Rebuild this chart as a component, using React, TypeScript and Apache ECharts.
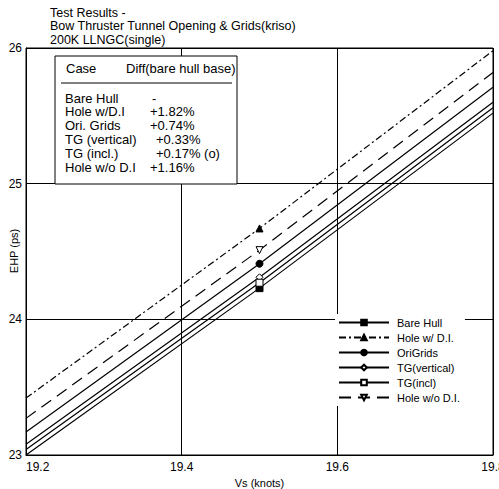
import React, { useEffect, useRef } from "react";
import * as echarts from "echarts";

// Speeds (knots) at which each curve is known
const speeds = [19.2, 19.5, 19.8];
// EHP values for each case
const bareHull = [23.0, 24.23, 25.52];
const holeWithDI = [23.42, 24.67, 25.98];
const oriGrids = [23.17, 24.41, 25.71];
const tgVertical = [23.08, 24.31, 25.6];
const tgIncl = [23.04, 24.27, 25.56];
const holeWithoutDI = [23.27, 24.51, 25.82];

const seriesNames = ["Bare Hull", "Hole w/ D.I.", "OriGrids", "TG(vertical)", "TG(incl)", "Hole w/o D.I."];

// Table in the top-left box
const tableCases = ["Bare Hull", "Hole w/D.I", "Ori. Grids", "TG (vertical)", "TG (incl.)", "Hole w/o D.I"];
const tableDiffs = ["-", "+1.82%", "+0.74%", "+0.33%", "+0.17% (o)", "+1.16%"];

const titleLines = ["Test Results -", "Bow Thruster Tunnel Opening & Grids(kriso)", "200K LLNGC(single)"];
const yAxisName = "EHP (ps)";
const xAxisName = "Vs (knots)";

const FONT = "Liberation Sans, Arial, sans-serif";
const MARK_SPEED = 19.5;

export default function App() {
  const ref = useRef<HTMLDivElement>(null);
  useEffect(() => {
    if (!ref.current) return;
    const chart = echarts.init(ref.current, undefined, { renderer: "svg" });

    const defs = [
      { name: seriesNames[0], values: bareHull, symbol: "rect", filled: true, dash: "solid" as any, rotate: 0 },
      { name: seriesNames[1], values: holeWithDI, symbol: "triangle", filled: true, dash: [7, 3, 2, 3], rotate: 0 },
      { name: seriesNames[2], values: oriGrids, symbol: "circle", filled: true, dash: "solid" as any, rotate: 0 },
      { name: seriesNames[3], values: tgVertical, symbol: "diamond", filled: false, dash: "solid" as any, rotate: 0 },
      { name: seriesNames[4], values: tgIncl, symbol: "rect", filled: false, dash: "solid" as any, rotate: 0 },
      { name: seriesNames[5], values: holeWithoutDI, symbol: "triangle", filled: false, dash: [12, 7], rotate: 180 },
    ];

    const series = defs.map((d) => ({
      name: d.name,
      type: "line",
      symbol: d.symbol,
      symbolSize: 7,
      symbolRotate: d.rotate,
      showAllSymbol: true,
      lineStyle: { color: "#000", width: 1.2, type: d.dash },
      itemStyle: { color: d.filled ? "#000" : "#fff", borderColor: "#000", borderWidth: 1 },
      data: speeds.map((s, i) =>
        s === MARK_SPEED ? { value: [s, d.values[i]] } : { value: [s, d.values[i]], symbol: "none" }
      ),
      z: 3,
    }));

    const graphicEls: any[] = [
      {
        type: "rect",
        shape: { x: 55, y: 56, width: 182, height: 128 },
        style: { fill: "#fff", stroke: "#000", lineWidth: 1 },
        z: 100,
      },
      {
        type: "text",
        x: 66,
        y: 68,
        style: { text: "Case", font: `13px ${FONT}`, fill: "#000", verticalAlign: "middle" },
        z: 101,
      },
      {
        type: "text",
        x: 126,
        y: 68,
        style: { text: "Diff(bare hull base)", font: `13px ${FONT}`, fill: "#000", verticalAlign: "middle" },
        z: 101,
      },
      {
        type: "line",
        shape: { x1: 61, y1: 83, x2: 232, y2: 83 },
        style: { stroke: "#000", lineWidth: 1 },
        z: 101,
      },
      {
        type: "text",
        x: 14,
        y: 251,
        rotation: Math.PI / 2,
        style: {
          text: yAxisName,
          font: `11px ${FONT}`,
          fill: "#000",
          align: "center",
          verticalAlign: "middle",
        },
        z: 101,
      },
    ];
    const diffX = [152, 150, 150, 156, 156, 150];
    tableCases.forEach((c, i) => {
      const y = 98 + i * 13.8;
      graphicEls.push({
        type: "text",
        x: 65,
        y,
        style: { text: c, font: `13px ${FONT}`, fill: "#000", verticalAlign: "middle" },
        z: 101,
      });
      graphicEls.push({
        type: "text",
        x: diffX[i],
        y,
        style: { text: tableDiffs[i], font: `13px ${FONT}`, fill: "#000", verticalAlign: "middle" },
        z: 101,
      });
    });

    chart.setOption({
      animation: false,
      backgroundColor: "#fff",
      textStyle: { fontFamily: FONT },
      title: {
        text: titleLines.join("\n"),
        left: 50,
        top: 6,
        padding: 0,
        textStyle: { fontSize: 12.5, fontWeight: "normal", color: "#000", lineHeight: 13.5, fontFamily: FONT },
      },
      grid: {
        left: 26,
        top: 48,
        width: 467,
        height: 407,
        outerBoundsMode: "none",
        containLabel: false,
        show: true,
        borderColor: "#000",
        borderWidth: 1,
        backgroundColor: "transparent",
      },
      legend: {
        data: seriesNames,
        orient: "vertical",
        left: 335,
        top: 314,
        itemWidth: 50,
        itemHeight: 7,
        itemGap: 4,
        padding: [3, 5, 3, 3],
        backgroundColor: "#fff",
        textStyle: { fontSize: 11, color: "#000", fontFamily: FONT, lineHeight: 11, padding: [0, 0, 0, 3] },
        inactiveColor: "#000",
      },
      xAxis: {
        type: "value",
        min: 19.2,
        max: 19.8,
        interval: 0.2,
        name: xAxisName,
        nameLocation: "middle",
        nameGap: 17,
        nameTextStyle: { fontSize: 11, color: "#000", fontFamily: FONT },
        axisLine: { show: true, lineStyle: { color: "#000", width: 1 } },
        axisTick: { show: false },
        axisLabel: {
          color: "#000",
          fontSize: 12,
          margin: 6,
          alignMinLabel: "left",
          hideOverlap: false,
          formatter: (v: number) => v.toFixed(1),
        },
        splitLine: { show: true, lineStyle: { color: "#000", width: 1 } },
      },
      yAxis: {
        type: "value",
        min: 23,
        max: 26,
        interval: 1,
        axisLine: { show: true, lineStyle: { color: "#000", width: 1 } },
        axisTick: { show: false },
        axisLabel: { color: "#000", fontSize: 12, margin: 4 },
        splitLine: { show: true, lineStyle: { color: "#000", width: 1 } },
      },
      graphic: { elements: graphicEls },
      series,
    });
    return () => chart.dispose();
  }, []);
  return <div ref={ref} style={{ position: "fixed", left: 0, top: 0, width: 499, height: 489 }} />;
}
